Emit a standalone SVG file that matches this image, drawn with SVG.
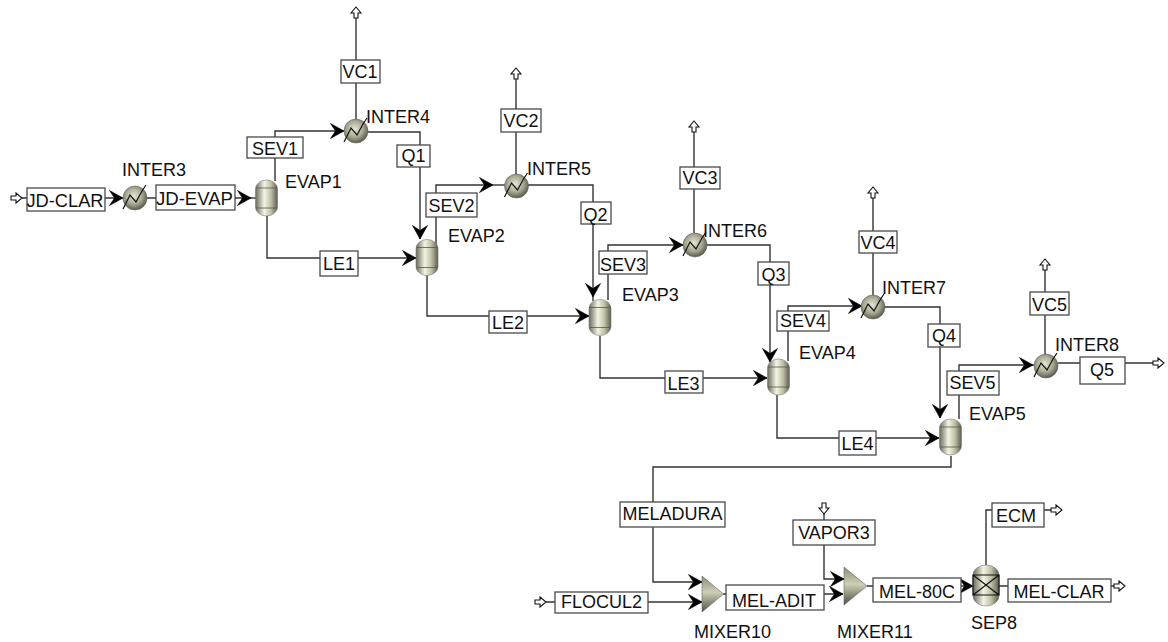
<svg xmlns="http://www.w3.org/2000/svg" width="1168" height="642" viewBox="0 0 1168 642">
<style>
text{font-family:"Liberation Sans",Arial,sans-serif;font-size:18px;fill:#111}
.c{text-anchor:middle}
.b{fill:#fff;stroke:#4a4a4a;stroke-width:1.3}
.l{fill:none;stroke:#333;stroke-width:1.4}
.a{marker-end:url(#ah)}
.i{marker-start:url(#hs)}
.o{marker-end:url(#he)}
.s{stroke:#55554a;stroke-width:.8}
.z{fill:none;stroke:#111;stroke-width:1.2}
</style>
<defs>
<marker id="ah" markerUnits="userSpaceOnUse" markerWidth="18" markerHeight="18" refX="15" refY="9" orient="auto"><path d="M1.500,1.500 L15,9 L1.500,16.500 L6.500,9 Z" fill="#000" stroke="#000" stroke-width=".6"/></marker>
<marker id="he" markerUnits="userSpaceOnUse" markerWidth="14" markerHeight="14" refX="1" refY="7" orient="auto"><path d="M1,5 H6 V2 L12,7 L6,12 V9 H1 Z" fill="#fff" stroke="#111" stroke-width="1.1"/></marker>
<marker id="hs" markerUnits="userSpaceOnUse" markerWidth="14" markerHeight="14" refX="12" refY="7" orient="auto"><path d="M1,5 H6 V2 L12,7 L6,12 V9 H1 Z" fill="#fff" stroke="#111" stroke-width="1.1"/></marker>
<radialGradient id="ball" cx=".45" cy=".42" r=".62"><stop offset="0" stop-color="#e6e6d4"/><stop offset=".55" stop-color="#a8a892"/><stop offset="1" stop-color="#4e4e42"/></radialGradient>
<linearGradient id="ves" x1="0" x2="1" y1="0" y2="0"><stop offset="0" stop-color="#6a6a5c"/><stop offset=".4" stop-color="#f4f4e4"/><stop offset=".7" stop-color="#c0c0a6"/><stop offset="1" stop-color="#5c5c50"/></linearGradient>
<linearGradient id="mix" x1="0" x2="0" y1="0" y2="1"><stop offset="0" stop-color="#8a8a78"/><stop offset=".45" stop-color="#cfcfb6"/><stop offset="1" stop-color="#4e4e44"/></linearGradient>
<g id="hx"><circle r="12" fill="url(#ball)" stroke="#666" stroke-width=".6"/><path class="z" d="M-12,11 L-5,-3 L1,4 L7,-7 L11,-13"/></g>
<g id="ev"><rect x="-11" y="-18" width="22" height="36" rx="11" ry="9" fill="url(#ves)" stroke="#777" stroke-width=".6"/><path class="s" d="M-10.500,-10 H10.500 M-10.500,10 H10.500"/></g>
</defs>
<g id="connectors">
<path class="l i a" d="M22,198 H123"/>
<path class="l a" d="M147,198 H251"/><path class="l" d="M251,198 H256"/>
<path class="l a" d="M275,181 V131 H344"/>
<path class="l a" d="M368,132 H420 V239"/>
<path class="l a" d="M267,215 V258 H416"/>
<path class="l a" d="M436,245 V185 H493"/><path class="l" d="M493,185 H505"/>
<path class="l a" d="M528,185 H593 V297"/><path class="l" d="M593,297 V301"/>
<path class="l a" d="M427,275 V316 H589"/>
<path class="l a" d="M608,300 V245 H683"/>
<path class="l a" d="M706,245 H770 V362"/>
<path class="l a" d="M600,336 V378 H767"/>
<path class="l a" d="M788,361 V306 H862"/>
<path class="l a" d="M884,307 H940 V418"/>
<path class="l a" d="M777,395 V438 H939"/>
<path class="l a" d="M959,419 V365 H1033"/><path class="l" d="M1033,365 H1036"/>
<path class="l o" d="M1058,363 H1153"/>
<path class="l o" d="M356,119 V18"/>
<path class="l o" d="M516,175 V79"/>
<path class="l o" d="M694,233 V132"/>
<path class="l o" d="M873,295 V198"/>
<path class="l o" d="M1045,355 V270"/>
<path class="l a" d="M951,456 V467 H653 V582 H702"/>
<path class="l i a" d="M546,602 H702"/>
<path class="l a" d="M723,594 H843"/>
<path class="l i a" d="M824,514 V579 H844"/>
<path class="l a" d="M867,586 H973"/>
<path class="l o" d="M986,565 V510 H1051"/>
<path class="l o" d="M999,586 H1114"/>
</g>
<g id="INTER3"><use href="#hx" x="135" y="198"/><text x="122" y="176">INTER3</text></g>
<g id="INTER4"><use href="#hx" x="356" y="131"/><text x="366" y="123">INTER4</text></g>
<g id="INTER5"><use href="#hx" x="516.500" y="186"/><text x="527" y="175">INTER5</text></g>
<g id="INTER6"><use href="#hx" x="695" y="245"/><text x="703" y="237">INTER6</text></g>
<g id="INTER7"><use href="#hx" x="873" y="307"/><text x="882" y="294">INTER7</text></g>
<g id="INTER8"><use href="#hx" x="1046" y="366"/><text x="1055" y="351">INTER8</text></g>
<g id="EVAP1"><use href="#ev" x="266.500" y="198"/><text x="285" y="188">EVAP1</text></g>
<g id="EVAP2"><use href="#ev" x="427" y="257.500"/><text x="448" y="242">EVAP2</text></g>
<g id="EVAP3"><use href="#ev" x="600" y="317.500"/><text x="622" y="301">EVAP3</text></g>
<g id="EVAP4"><use href="#ev" x="778.500" y="377"/><text x="799" y="359">EVAP4</text></g>
<g id="EVAP5"><use href="#ev" x="950.500" y="437"/><text x="969" y="420">EVAP5</text></g>
<g id="MIXER10"><path d="M702,576 L723.500,594 L702,612 Z" fill="url(#mix)" stroke="#666" stroke-width=".6"/><text x="694" y="638">MIXER10</text></g>
<g id="MIXER11"><path d="M844,567 L867,586 L844,605 Z" fill="url(#mix)" stroke="#666" stroke-width=".6"/><text x="837" y="638">MIXER11</text></g>
<g id="SEP8"><rect x="973" y="565" width="26" height="41" rx="13" ry="10" fill="url(#ves)" stroke="#777" stroke-width=".6"/><path class="z" d="M973,575 H999 V595 H973 Z M973,575 L999,595 M999,575 L973,595"/><text x="971" y="629">SEP8</text></g>
<g id="JD-CLAR"><rect class="b" x="27" y="188" width="78" height="23"/><text class="c" x="65" y="207" textLength="77" lengthAdjust="spacingAndGlyphs">JD-CLAR</text></g>
<g id="JD-EVAP"><rect class="b" x="156" y="185" width="79" height="25"/><text class="c" x="194.500" y="205" textLength="77" lengthAdjust="spacingAndGlyphs">JD-EVAP</text></g>
<g id="SEV1"><rect class="b" x="247" y="137" width="56" height="21"/><text class="c" x="275" y="155">SEV1</text></g>
<g id="VC1"><rect class="b" x="341" y="60" width="39" height="23"/><text class="c" x="360" y="78">VC1</text></g>
<g id="Q1"><rect class="b" x="397" y="145" width="33" height="22"/><text class="c" x="413.500" y="162">Q1</text></g>
<g id="LE1"><rect class="b" x="320" y="251" width="38" height="25"/><text class="c" x="339" y="270">LE1</text></g>
<g id="SEV2"><rect class="b" x="426" y="193" width="51" height="24"/><text class="c" x="451.500" y="212">SEV2</text></g>
<g id="VC2"><rect class="b" x="501" y="109" width="40" height="23"/><text class="c" x="521" y="127">VC2</text></g>
<g id="Q2"><rect class="b" x="581" y="202" width="30" height="22"/><text class="c" x="595.500" y="221">Q2</text></g>
<g id="LE2"><rect class="b" x="489" y="311" width="38" height="22"/><text class="c" x="508" y="329">LE2</text></g>
<g id="SEV3"><rect class="b" x="599" y="251" width="48" height="23"/><text class="c" x="623" y="271">SEV3</text></g>
<g id="VC3"><rect class="b" x="680" y="167" width="40" height="22"/><text class="c" x="700" y="184">VC3</text></g>
<g id="Q3"><rect class="b" x="758" y="262" width="31" height="23"/><text class="c" x="773.500" y="281">Q3</text></g>
<g id="LE3"><rect class="b" x="665" y="371" width="38" height="22"/><text class="c" x="683.500" y="390">LE3</text></g>
<g id="SEV4"><rect class="b" x="777" y="311" width="52" height="20"/><text class="c" x="803" y="327">SEV4</text></g>
<g id="VC4"><rect class="b" x="859" y="231" width="38" height="22"/><text class="c" x="878" y="249">VC4</text></g>
<g id="Q4"><rect class="b" x="928" y="324" width="32" height="23"/><text class="c" x="944" y="342">Q4</text></g>
<g id="LE4"><rect class="b" x="839" y="431" width="37" height="24"/><text class="c" x="857.500" y="450">LE4</text></g>
<g id="SEV5"><rect class="b" x="947" y="371" width="52" height="24"/><text class="c" x="972.500" y="389">SEV5</text></g>
<g id="VC5"><rect class="b" x="1030" y="292" width="39" height="23"/><text class="c" x="1049.500" y="311">VC5</text></g>
<g id="Q5"><rect class="b" x="1080" y="357" width="45" height="27"/><text class="c" x="1102" y="376">Q5</text></g>
<g id="MELADURA"><rect class="b" x="620" y="502" width="105" height="25"/><text class="c" x="672.500" y="520">MELADURA</text></g>
<g id="VAPOR3"><rect class="b" x="793" y="520" width="82" height="25"/><text class="c" x="834" y="539">VAPOR3</text></g>
<g id="FLOCUL2"><rect class="b" x="555" y="592" width="93" height="21"/><text class="c" x="601.500" y="608">FLOCUL2</text></g>
<g id="MEL-ADIT"><rect class="b" x="726" y="585" width="98" height="25"/><text class="c" x="774" y="607">MEL-ADIT</text></g>
<g id="MEL-80C"><rect class="b" x="873" y="578" width="88" height="24"/><text class="c" x="917" y="598">MEL-80C</text></g>
<g id="ECM"><rect class="b" x="992" y="503" width="52" height="24"/><text class="c" x="1016" y="522">ECM</text></g>
<g id="MEL-CLAR"><rect class="b" x="1008" y="579" width="103" height="23"/><text class="c" x="1059" y="598">MEL-CLAR</text></g>
</svg>
